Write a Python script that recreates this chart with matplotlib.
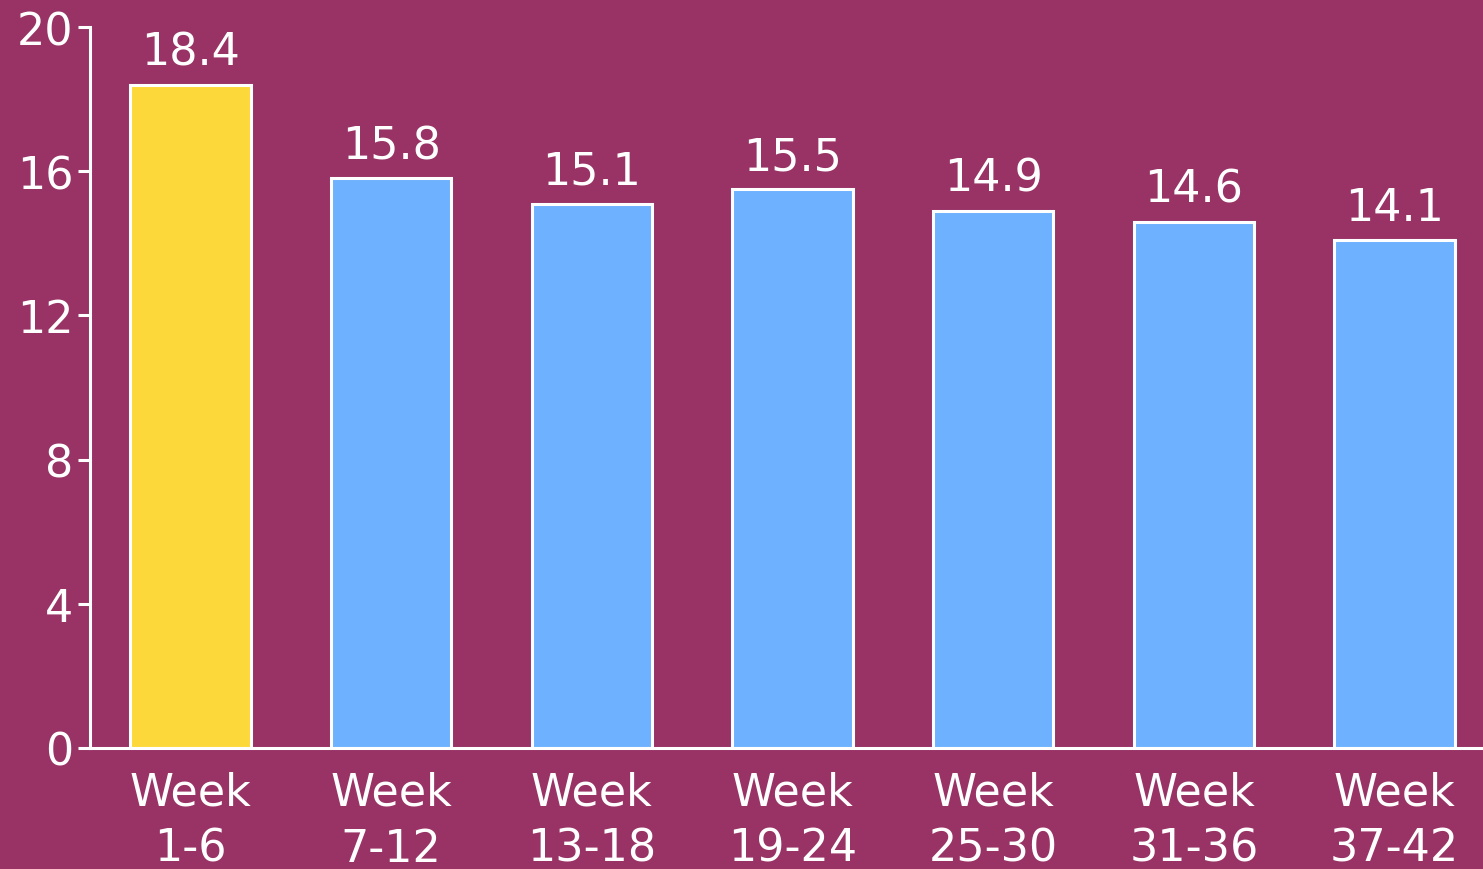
import matplotlib
matplotlib.use('Agg')
import matplotlib.pyplot as plt

weeks = ['Week\n1-6', 'Week\n7-12', 'Week\n13-18', 'Week\n19-24',
         'Week\n25-30', 'Week\n31-36', 'Week\n37-42']
values = [18.4, 15.8, 15.1, 15.5, 14.9, 14.6, 14.1]
colors = ['#fdd83a'] + ['#6db1ff'] * 6
yticks = [0, 4, 8, 12, 16, 20]

bg = '#993366'

fig = plt.figure(figsize=(14.83, 8.7), dpi=100, facecolor=bg)
ax = fig.add_axes([0.0607, 0.1391, 0.9393, 0.8287], facecolor=bg)

x = list(range(len(values)))
bars = ax.bar(x, values, width=0.6, color=colors, edgecolor='white', linewidth=2.2)

for xi, v in zip(x, values):
    ax.annotate(f'{v}', (xi, v), xytext=(0, 8), textcoords='offset points',
                ha='center', va='bottom', fontsize=32, color='white')

ax.set_xlim(-0.5, 6.44)
ax.set_ylim(0, 20)
ax.set_yticks(yticks)
ax.set_xticks(x)
ax.set_xticklabels(weeks, linespacing=1.4)

for s in ['top', 'right']:
    ax.spines[s].set_visible(False)
for s in ['left', 'bottom']:
    ax.spines[s].set_color('white')
    ax.spines[s].set_linewidth(2.2)

ax.tick_params(axis='y', colors='white', labelsize=32, length=9, width=2.2, pad=3)
ax.tick_params(axis='x', colors='white', labelsize=32, length=0, pad=16)

fig.savefig('out.png', dpi=100, facecolor=bg)
